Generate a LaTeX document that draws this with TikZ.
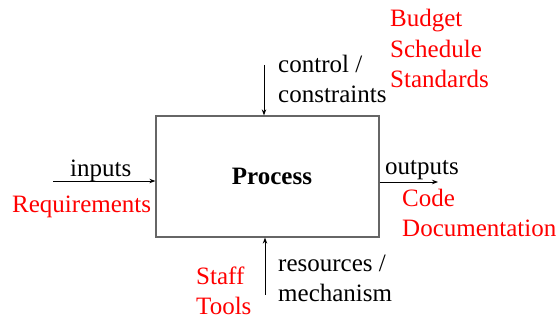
\documentclass[tikz,border=0pt]{standalone}
\usepackage{fontspec}
\setmainfont{Liberation Serif}
\usetikzlibrary{arrows.meta}
\begin{document}
\begin{tikzpicture}[x=1pt,y=-1pt,
  txt/.style={anchor=base west,inner sep=0pt,font=\fontsize{25}{30.5}\selectfont},
  redtxt/.style={txt,text=red,align=left},
  conn/.style={draw=black,line width=0.9pt,-{Stealth[length=6pt,width=4.5pt]}},
  procbox/.style={draw=black!60,line width=1.3pt,minimum width=223pt,minimum height=121pt,inner sep=0pt}]
\useasboundingbox (0,0) rectangle (560,320);
\node[procbox] (box) at (267.5,176.5) {};
\node[anchor=base,inner sep=0pt,font=\fontsize{25}{30.5}\selectfont\bfseries] (proc) at (272,185) {Process};
% inputs
\coordinate (inL) at (53,181);
\draw[conn] (inL) -- (inL -| box.west);
\node[txt] (inputs) at (70,177) {inputs};
\node[redtxt] (req) at (12,213) {Requirements};
% outputs
\coordinate (outR) at (438,182);
\draw[conn] (outR -| box.east) -- (outR);
\node[txt] (outputs) at (385,175) {outputs};
\node[redtxt] (code) at (402,237) {Code\\Documentation};
% control
\coordinate (ctlT) at (264,65);
\draw[conn] (ctlT) -- (ctlT |- box.north);
\node[txt,align=left] (ctl) at (278,103) {control /\\constraints};
\node[redtxt] (bud) at (390,88) {Budget\\Schedule\\Standards};
% resources
\coordinate (resB) at (265,295);
\draw[conn] (resB) -- (resB |- box.south);
\node[txt,align=left] (res) at (278,302) {resources /\\mechanism};
\node[redtxt] (staff) at (196,315) {Staff\\Tools};
\end{tikzpicture}
\end{document}
